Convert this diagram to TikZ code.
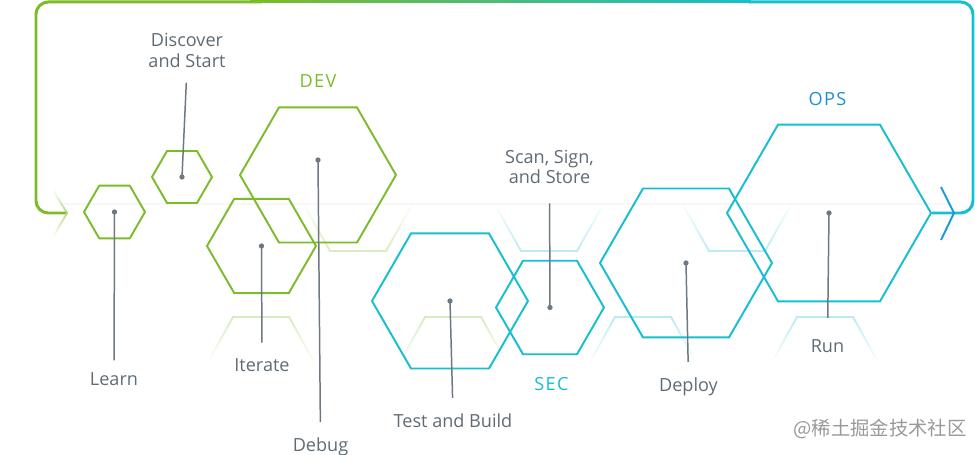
\documentclass[tikz,border=0pt]{standalone}
\usepackage{fontspec}
\setmainfont{Open Sans}
\newfontfamily\cjkfont{Noto Sans CJK SC}
\usepackage{tikz}
\usetikzlibrary{shapes.geometric,positioning,calc,fadings}

\definecolor{devgreen}{HTML}{7CBB2A}
\definecolor{seccyan}{HTML}{16BECF}
\definecolor{opsblue}{HTML}{1A90D2}
\definecolor{labelgray}{HTML}{5F6B75}
\definecolor{leadgray}{HTML}{6E7882}
\definecolor{chevblue}{HTML}{1A9AD6}

\begin{document}
\begin{tikzpicture}[x=0.02cm, y=-0.02cm,
            hexa/.style={regular polygon, regular polygon sides=6, draw=#1, line width=1.1pt, inner sep=0pt},
            ghost/.style={draw=#1!30, line width=1.1pt},
            lbl/.style={font=\fontsize{10.3}{11.6}\selectfont, text=labelgray, inner sep=0pt, align=center},
            phase/.style={font=\fontsize{10.3}{12}\selectfont\addfontfeature{LetterSpace=8}, text=#1, inner sep=0pt, anchor=base},
            lead/.style={leadgray, line width=0.85pt, shorten >=9pt},
            loopline/.style={line width=1.7pt, rounded corners=7pt}
        ]
            \useasboundingbox (0,0) rectangle (975,455);

            % faint band and mirrored hexagon pieces
            \draw[black!3, line width=0.6pt] (60,204) -- (950,204);
            \foreach \x/\c in {261/devgreen,453/devgreen,643/seccyan,825/seccyan}
                \draw[ghost=\c, path fading=south] (\x-53,362) -- (\x-28,317) -- (\x+28,317) -- (\x+53,362);
            \foreach \x/\c in {358/devgreen,549/seccyan,737/seccyan}
                \draw[ghost=\c, path fading=north] (\x-55,203) -- (\x-28,251) -- (\x+28,251) -- (\x+55,203);

            % hexagons
            \node[hexa=devgreen, minimum size=1.22cm] (learn) at (114.5,212) {};
            \node[hexa=devgreen, minimum size=1.20cm] (disc) at (182,177) {};
            \node[hexa=devgreen, minimum size=3.12cm] (dev) at (318,175) {};
            \node[hexa=devgreen, minimum size=2.18cm] (iter) at (261.5,246) {};
            \node[hexa=seccyan, minimum size=3.12cm] (test) at (450,301) {};
            \node[hexa=seccyan, minimum size=2.16cm] (scan) at (550,307.5) {};
            \node[hexa=seccyan, minimum size=3.44cm] (deploy) at (686,263) {};
            \node[hexa=seccyan, minimum size=4.08cm] (run) at (829,213) {};
            \coordinate (devdot) at (318,160);

            % labels
            \node[lbl, anchor=base] (learnlbl) at (114,386) {Learn};
            \node[lbl, anchor=base] (iterlbl) at (262,371.7) {Iterate};
            \node[lbl, anchor=base] (debuglbl) at (320.5,452) {Debug};
            \node[lbl, anchor=base] (testlbl) at (453,427.7) {Test and Build};
            \node[lbl, anchor=base] (deploylbl) at (688.5,391.7) {Deploy};
            \node[lbl, anchor=base] (runlbl) at (827.5,353) {Run};
            \node[lbl, anchor=south] (disclbl) at (187,67.7) {Discover\\and Start};
            \node[lbl, anchor=south] (scanlbl) at (549.5,184) {Scan, Sign,\\and Store};
            \node[phase=devgreen] (devlbl) at (318,88) {DEV};
            \node[phase=seccyan] (seclbl) at (551.5,391) {SEC};
            \node[phase=opsblue] (opslbl) at (827.5,105.7) {OPS};

            % leaders
            \path[lead]
                (learn.center) edge[shorten >=7pt] (learnlbl.north)
                (iter.center) edge (iterlbl.north)
                (devdot) edge (debuglbl.north)
                (test.center) edge (testlbl.north)
                (deploy.center) edge (deploylbl.north)
                (run.center) edge[shorten >=12.5pt] (runlbl.north)
                (disc.center) edge[shorten >=8.5pt] (disclbl.south)
                (scan.center) edge[shorten >=11pt] (scanlbl.south);
            \foreach \p in {learn.center,iter.center,devdot,test.center,deploy.center,run.center,disc.center,scan.center}
                \fill[leadgray] (\p) circle (1.5pt);

            % loop back from OPS to the start
            \coordinate (loopin) at (67,213);
            \coordinate (looptl) at (36,2);
            \coordinate (looptr) at (973,2);
            \draw[loopline, devgreen] (loopin) -| (looptl) -- (262,2);
            \foreach \i in {0,...,24}{
                \pgfmathtruncatemacro\mixp{4*\i}
                \draw[line width=1.7pt, seccyan!\mixp!devgreen] (250+20*\i,2) -- (271+20*\i,2);
            }
            \draw[loopline, seccyan] (748,2) -- (looptr) |- (run.east);
            \draw[devgreen!60, line width=1.1pt, path fading=west] (53,190) -- (loopin) -- (53,237);
            \draw[chevblue, line width=1.1pt] (941,187) -- (954,213) -- (941,240);

            \node[text=black!40, font=\cjkfont\fontsize{11}{11}\selectfont, inner sep=0pt] (mark) at (880,429) {@稀土掘金技术社区};
        \end{tikzpicture}
\end{document}
